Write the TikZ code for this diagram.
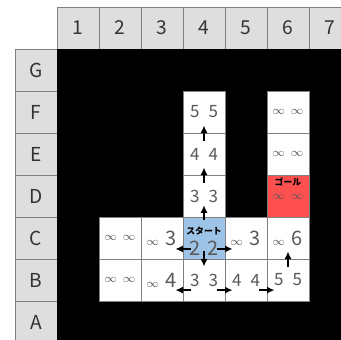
\documentclass[tikz,border=0pt]{standalone}
\usepackage{fontspec}
\setmainfont{Noto Sans CJK JP}
\usepackage{tikz}
\usetikzlibrary{arrows.meta,positioning}
\definecolor{headgray}{RGB}{222,222,222}
\definecolor{gridgray}{RGB}{128,128,128}
\definecolor{startblue}{RGB}{157,195,230}
\definecolor{goalred}{RGB}{255,80,80}
\tikzset{
  headcell/.style={
    draw=gridgray,
    fill=headgray,
    minimum size=10mm,
    inner sep=0pt,
    outer sep=0pt,
    font=\fontsize{13pt}{15pt}\selectfont,
    text=black!80
  },
  cell/.style={
    draw=gridgray,
    fill=white,
    minimum size=10mm,
    inner sep=0pt,
    outer sep=0pt,
    font=\fontsize{11.5pt}{13pt}\selectfont,
    text=black!65
  },
  startcell/.style={cell, fill=startblue},
  goalcell/.style={cell, fill=goalred},
  celltag/.style={font=\fontsize{6pt}{7pt}\selectfont\bfseries, text=black, inner sep=0pt},
  cellval/.style={font=\fontsize{11.5pt}{13pt}\selectfont, text=black!65, inner sep=0pt},
  move/.style={-{Latex[length=1.8mm,width=1.7mm]}, line width=1.1pt, shorten <=3.2mm, shorten >=3.2mm}
}
\newcommand{\dist}[2]{\makebox[4.4mm]{#1}\makebox[4.4mm]{#2}}
\newcommand{\bigdist}[1]{{\fontsize{13.5pt}{15pt}\selectfont #1}}
\newcommand{\infdist}{{\fontsize{8pt}{9pt}\selectfont$\infty$}}

\begin{document}
\begin{tikzpicture}
\useasboundingbox (-0.857,0.667) rectangle (7.262,-7.405);
\clip (-0.857,0.667) rectangle (7.262,-7.405);
% column and row headers
\node[headcell] (h1) at (1,0) {1};
\node[headcell, right=0pt of h1] (h2) {2};
\node[headcell, right=0pt of h2] (h3) {3};
\node[headcell, right=0pt of h3] (h4) {4};
\node[headcell, right=0pt of h4] (h5) {5};
\node[headcell, right=0pt of h5] (h6) {6};
\node[headcell, right=0pt of h6] (h7) {7};
\node[headcell] (G) at (0,-1) {G};
\node[headcell, below=0pt of G] (F) {F};
\node[headcell, below=0pt of F] (E) {E};
\node[headcell, below=0pt of E] (D) {D};
\node[headcell, below=0pt of D] (C) {C};
\node[headcell, below=0pt of C] (B) {B};
\node[headcell, below=0pt of B] (A) {A};
% walls
\fill[black] (G.north east) rectangle (h7.south east |- A.south);
% free cells
\node[cell] (C2) at (2,-5) {\dist{\infdist}{\infdist}};
\node[cell, right=0pt of C2] (C3) {\dist{\infdist}{\bigdist{3}}};
\node[startcell, right=0pt of C3] (C4) {};
\node[cell, right=0pt of C4] (C5) {\dist{\infdist}{\bigdist{3}}};
\node[cell, right=0pt of C5] (C6) {\dist{\infdist}{\bigdist{6}}};
\node[cell, below=0pt of C2] (B2) {\dist{\infdist}{\infdist}};
\node[cell, right=0pt of B2] (B3) {\dist{\infdist}{\bigdist{4}}};
\node[cell, right=0pt of B3] (B4) {\dist{3}{3}};
\node[cell, right=0pt of B4] (B5) {\dist{4}{4}};
\node[cell, right=0pt of B5] (B6) {\dist{5}{5}};
\node[cell, above=0pt of C4] (D4) {\dist{3}{3}};
\node[cell, above=0pt of D4] (E4) {\dist{4}{4}};
\node[cell, above=0pt of E4] (F4) {\dist{5}{5}};
\node[goalcell, above=0pt of C6] (D6) {};
\node[cell, above=0pt of D6] (E6) {\dist{\infdist}{\infdist}};
\node[cell, above=0pt of E6] (F6) {\dist{\infdist}{\infdist}};
% start and goal
\node[celltag] (starttag) at ([yshift=1.7mm]C4.center) {スタート};
\node[cellval] (startval) at ([yshift=-2.4mm]C4.center) {\dist{\bigdist{2}}{\bigdist{2}}};
\node[celltag] (goaltag) at ([yshift=3.3mm]D6.center) {ゴール};
\node[cellval] (goalval) at ([yshift=-0.3mm]D6.center) {\dist{\infdist}{\infdist}};
% search steps
\draw[move] (E4.center) -- (F4.center);
\draw[move] (D4.center) -- (E4.center);
\draw[move] ([yshift=1mm]C4.center) -- ([yshift=1mm]D4.center);
\draw[move] (C4.center) -- (B4.center);
\draw[move] ([yshift=-2.6mm]C4.center) -- ([yshift=-2.6mm]C3.center);
\draw[move] ([yshift=-2.6mm]C4.center) -- ([yshift=-2.6mm]C5.center);
\draw[move] ([yshift=-2.4mm]B4.center) -- ([yshift=-2.4mm]B3.center);
\draw[move] ([yshift=-2.4mm]B4.center) -- ([yshift=-2.4mm]B5.center);
\draw[move] ([yshift=-2.4mm]B5.center) -- ([yshift=-2.4mm]B6.center);
\draw[move] (B6.center) -- (C6.center);
\end{tikzpicture}
\end{document}
